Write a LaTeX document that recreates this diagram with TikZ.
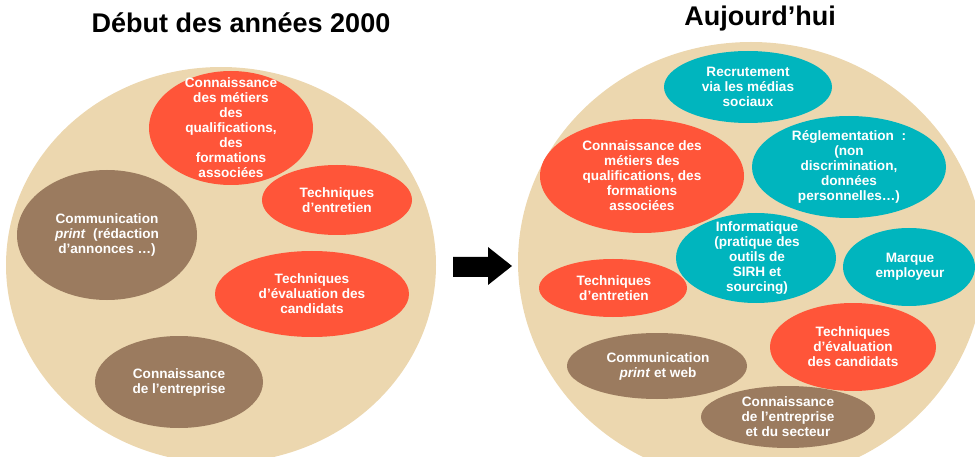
\documentclass[tikz,border=0pt]{standalone}
\usepackage{fontspec}
\setmainfont{Liberation Sans}
\usetikzlibrary{shapes.geometric}
\definecolor{beige}{HTML}{ECD7AF}
\definecolor{rouge}{HTML}{FF5539}
\definecolor{brun}{HTML}{9B7B5F}
\definecolor{bleu}{HTML}{00B5BE}
\tikzset{
  disc/.style={ellipse, fill=beige, draw=none, inner sep=0pt},
  blob/.style={ellipse, draw=none, inner sep=0pt},
  redb/.style={blob, fill=rouge},
  brownb/.style={blob, fill=brun},
  tealb/.style={blob, fill=bleu},
  txt/.style={text=white, align=center, inner sep=0pt,
    font=\fontsize{13.6}{15}\selectfont\bfseries},
  titre/.style={text=black, anchor=base, inner sep=0pt,
    font=\fontsize{27}{30}\selectfont\bfseries},
}
\begin{document}
\begin{tikzpicture}[x=1pt, y=-1pt]
\useasboundingbox (0,0) rectangle (975,457);
\clip (0,0) rectangle (975,457);
% titles
\node[titre] (t1) at (241,33) {Début des années 2000};
\node[titre] (t2) at (760,26) {Aujourd’hui};
% big discs
\node[disc, minimum width=430pt, minimum height=396pt] (D1) at (221,265) {};
\node[disc, minimum width=466pt, minimum height=440pt] (D2) at (751,262) {};
% arrow
\fill[black] (453,257) -- (488,257) -- (488,247) -- (512,266) -- (488,285) -- (488,277) -- (453,277) -- cycle;
% left
\node[redb, minimum width=164pt, minimum height=114pt] (L1) at (231,128) {};
\node[txt] (L1t) at (L1) {Connaissance\\des métiers\\des\\qualifications,\\des\\formations\\associées};
\node[redb, minimum width=150pt, minimum height=70pt] (L2) at (337,200) {};
\node[txt] (L2t) at (L2) {Techniques\\d’entretien};
\node[brownb, minimum width=180pt, minimum height=130pt] (L3) at (107,235) {};
\node[txt] (L3t) at (L3) {Communication\\\textit{print}~ (rédaction\\d’annonces …)};
\node[redb, minimum width=194pt, minimum height=86pt] (L4) at (312,294) {};
\node[txt] (L4t) at (L4) {Techniques\\d’évaluation des\\candidats};
\node[brownb, minimum width=168pt, minimum height=92pt] (L5) at (179,382) {};
\node[txt] (L5t) at (L5) {Connaissance\\de l’entreprise};
% right
\node[tealb, minimum width=168pt, minimum height=72pt] (R1) at (748,87) {};
\node[txt] (R1t) at (R1) {Recrutement\\via les médias\\sociaux};
\node[redb, minimum width=204pt, minimum height=114pt] (R2) at (642,176) {};
\node[txt] (R2t) at (R2) {Connaissance des\\métiers des\\qualifications, des\\formations\\associées};
\node[tealb, minimum width=194pt, minimum height=102pt] (R3) at (849,167) {};
\node[txt] (R3t) at (R3) {Réglementation~ :\\(non\\discrimination,\\données\\personnelles…)};
\node[redb, minimum width=148pt, minimum height=58pt] (R6) at (613,288) {};
\node[txt] (R6t) at (614,288) {Techniques\\d’entretien};
\node[tealb, minimum width=160pt, minimum height=90pt] (R4) at (756,258) {};
\node[txt] (R4t) at (757,258) {Informatique\\(pratique des\\outils de\\SIRH et\\sourcing)};
\node[tealb, minimum width=132pt, minimum height=78pt] (R5) at (909,267) {};
\node[txt] (R5t) at (910,267) {Marque\\employeur};
\node[redb, minimum width=166pt, minimum height=88pt] (R7) at (853,347) {};
\node[txt] (R7t) at (R7) {Techniques\\d’évaluation\\des candidats};
\node[brownb, minimum width=180pt, minimum height=66pt] (R8) at (657,366) {};
\node[txt] (R8t) at (658,366) {Communication\\\textit{print} et web};
\node[brownb, minimum width=174pt, minimum height=62pt] (R9) at (788,417) {};
\node[txt] (R9t) at (R9) {Connaissance\\de l’entreprise\\et du secteur};
\end{tikzpicture}
\end{document}
